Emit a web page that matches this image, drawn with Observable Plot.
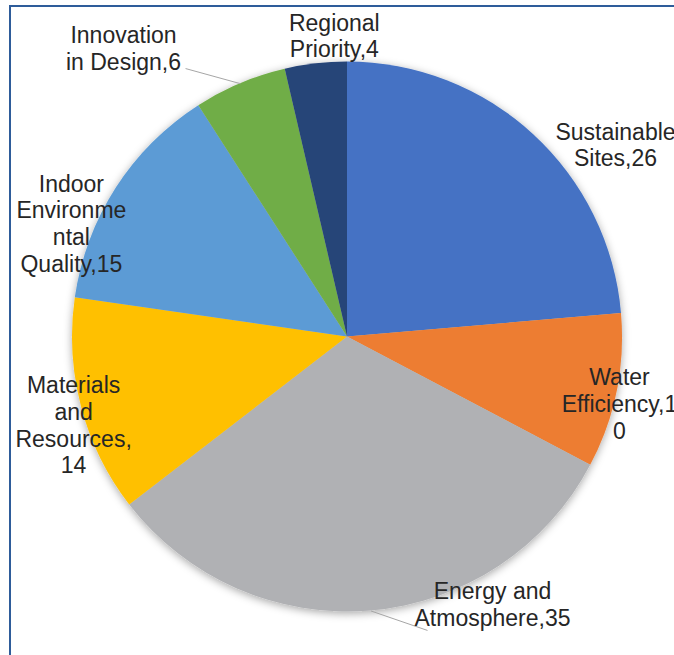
<!DOCTYPE html>
<html>
<head>
<meta charset="utf-8">
<script src="https://cdn.jsdelivr.net/npm/d3@7"></script>
<script src="https://cdn.jsdelivr.net/npm/@observablehq/plot@0.6"></script>
<style>
  html, body { margin: 0; padding: 0; background: #fff; }
  #wrap { position: relative; width: 674px; height: 655px; overflow: hidden; background: #fff; }
  #border { position: absolute; left: 9px; top: 5px; width: 700px; height: 700px;
            border-left: 2px solid #2E5C9A; border-top: 2px solid #2E5C9A;
            pointer-events: none; z-index: 2; }
  #wrap svg { position: absolute; left: 0; top: 0; z-index: 1; }
</style>
</head>
<body>
<div id="wrap"><div id="border"></div></div>
<script>
// ---- data ----
const categories = ["Sustainable Sites", "Water Efficiency", "Energy and Atmosphere",
  "Materials and Resources", "Indoor Environmental Quality", "Innovation in Design", "Regional Priority"];
const values = [26, 10, 35, 14, 15, 6, 4];
const colors = ["#4472C4", "#ED7D31", "#B0B1B4", "#FFC000", "#5B9BD5", "#70AD47", "#264478"];
// label text as wrapped in the original chart
const labelTexts = [
  "Sustainable\nSites,26",
  "Water\nEfficiency,1\n0",
  "Energy and\nAtmosphere,35",
  "Materials\nand\nResources,\n14",
  "Indoor\nEnvironme\nntal\nQuality,15",
  "Innovation\nin Design,6",
  "Regional\nPriority,4"
];

// ---- layout (label placement in polar terms: degrees clockwise from 12 o'clock, radius multiples) ----
const labelAngles = [54.3, 103.7, 151.5, 252.2, 292.4, 322.2, 357.5];
const labelRadii  = [1.200, 1.018, 1.105, 1.046, 1.086, 1.329, 1.098];
const leaderCats   = ["Innovation in Design", "Energy and Atmosphere"];
const leaderAngles = [328.9, 164.75];
const leaderRadii  = [1.140, 1.106];

const rows = categories.map((c, i) => ({category: c, value: values[i], color: colors[i], label: labelTexts[i]}));
const arcs = d3.pie().value(d => d.value).sort(null).startAngle(0).endAngle(2 * Math.PI)(rows);
const rad = deg => deg * Math.PI / 180;

const labelRows = rows.map((d, i) => ({
  text: d.label,
  x: labelRadii[i] * Math.sin(rad(labelAngles[i])),
  y: labelRadii[i] * Math.cos(rad(labelAngles[i]))
}));

const leaderRows = leaderCats.map((c, i) => {
  const a = arcs.find(d => d.data.category === c);
  const mid = (a.startAngle + a.endAngle) / 2;
  return {
    x1: Math.sin(mid), y1: Math.cos(mid),
    x2: leaderRadii[i] * Math.sin(rad(leaderAngles[i])),
    y2: leaderRadii[i] * Math.cos(rad(leaderAngles[i]))
  };
});

function pieMark(index, scales) {
  const cx = scales.x(0), cy = scales.y(0);
  const r = Math.abs(scales.x(1) - scales.x(0));
  const arc = d3.arc().innerRadius(0).outerRadius(r);
  const g = d3.create("svg:g");
  const f = g.append("defs").append("filter").attr("id", "pieShadow")
    .attr("x", "-20%").attr("y", "-20%").attr("width", "140%").attr("height", "140%");
  f.append("feDropShadow").attr("dx", 0).attr("dy", 2).attr("stdDeviation", 4)
    .attr("flood-color", "#000").attr("flood-opacity", 0.35);
  g.append("g")
    .attr("transform", `translate(${cx},${cy})`)
    .attr("filter", "url(#pieShadow)")
    .selectAll("path").data(arcs).join("path")
    .attr("d", arc)
    .attr("fill", d => d.data.color);
  return g.node();
}

const chart = Plot.plot({
  width: 674,
  height: 655,
  marginLeft: 72,
  marginRight: 52,
  marginTop: 61.5,
  marginBottom: 43.5,
  style: {background: "transparent"},
  x: {domain: [-1, 1], axis: null},
  y: {domain: [-1, 1], axis: null},
  marks: [
    pieMark,
    Plot.link(leaderRows, {x1: "x1", y1: "y1", x2: "x2", y2: "y2", stroke: "#A6A6A6", strokeWidth: 1}),
    Plot.text(labelRows, {
      x: "x", y: "y", text: "text",
      fontSize: 23, lineHeight: 1.16,
      fontFamily: "'Liberation Sans', Arial, sans-serif",
      fill: "#262626", textAnchor: "middle", lineAnchor: "middle"
    })
  ]
});
document.getElementById("wrap").appendChild(chart);
</script>
</body>
</html>
